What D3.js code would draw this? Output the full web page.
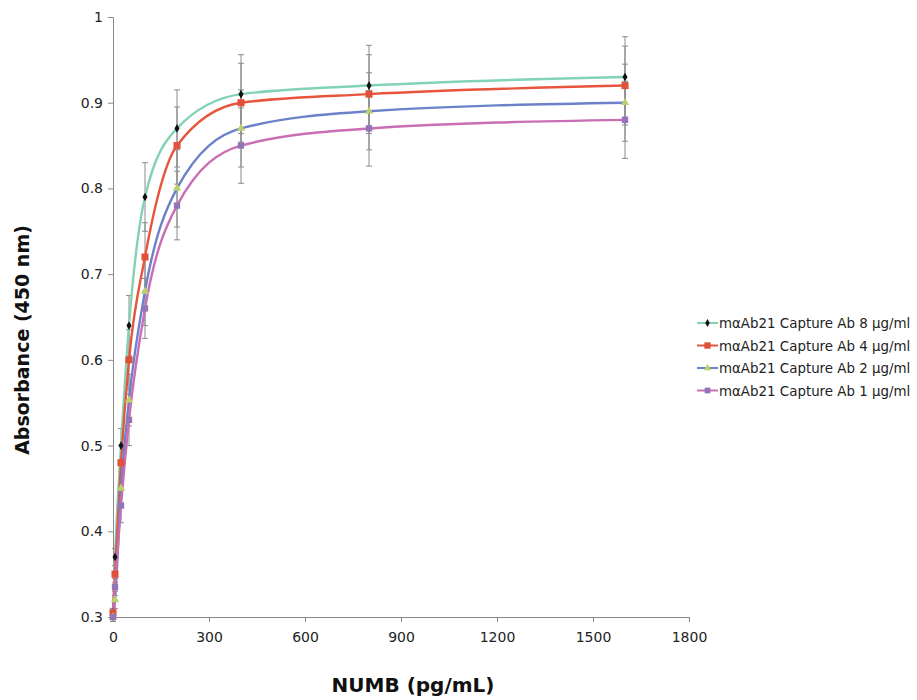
<!DOCTYPE html>
<html lang="en">
<head>
<meta charset="utf-8">
<title>NUMB standard curves</title>
<script src="https://d3js.org/d3.v7.min.js"></script>
<style>
  body{margin:0;background:#fff;font-family:"DejaVu Sans",Verdana,sans-serif;}
  .axis path,.axis line{stroke:#8a8a8a;}
  .axis text{fill:#222;font-size:14px;font-family:"DejaVu Sans",Verdana,sans-serif;}
</style>
</head>
<body>
<div id="chart"></div>
<script>
// concentrations (pg/mL)
var conc = [0, 6.25, 25, 50, 100, 200, 400, 800, 1600]
var seriesNames = [
  "m\u03b1Ab21 Capture Ab 8 \u00b5g/ml",
  "m\u03b1Ab21 Capture Ab 4 \u00b5g/ml",
  "m\u03b1Ab21 Capture Ab 2 \u00b5g/ml",
  "m\u03b1Ab21 Capture Ab 1 \u00b5g/ml"
]
var abs8 = [0.305, 0.37, 0.50, 0.64, 0.79, 0.87, 0.91, 0.92, 0.93]
var abs4 = [0.305, 0.35, 0.48, 0.60, 0.72, 0.85, 0.90, 0.91, 0.92]
var abs2 = [0.30, 0.32, 0.45, 0.553, 0.68, 0.80, 0.87, 0.89, 0.90]
var abs1 = [0.30, 0.335, 0.43, 0.53, 0.66, 0.78, 0.85, 0.87, 0.88]
// standard deviations
var sd8 = [0.005, 0.01, 0.02, 0.035, 0.04, 0.045, 0.046, 0.047, 0.047]
var sd4 = [0.005, 0.01, 0.02, 0.035, 0.04, 0.045, 0.046, 0.046, 0.046]
var sd2 = [0.005, 0.01, 0.02, 0.03, 0.04, 0.045, 0.045, 0.045, 0.045]
var sd1 = [0.005, 0.01, 0.02, 0.03, 0.035, 0.04, 0.044, 0.044, 0.045]
var xTicks = [0, 300, 600, 900, 1200, 1500, 1800]
var yTicks = [0.3, 0.4, 0.5, 0.6, 0.7, 0.8, 0.9, 1]

var w = 917, h = 700
var mLeft = 113, mRight = 689, mTop = 17, mBottom = 617

var xScale = d3.scaleLinear().domain([0, 1800]).range([mLeft, mRight])
var yScale = d3.scaleLinear().domain([0.3, 1]).range([mBottom, mTop])

var series = [
  {name: seriesNames[0], vals: abs8, sd: sd8, line: "#82d2b4", mark: "#111", shape: "diamond", size: 22},
  {name: seriesNames[1], vals: abs4, sd: sd4, line: "#e8553d", mark: "#df5239", shape: "square", size: 50},
  {name: seriesNames[2], vals: abs2, sd: sd2, line: "#6b81c9", mark: "#bad06c", shape: "triangle", size: 30},
  {name: seriesNames[3], vals: abs1, sd: sd1, line: "#c96db5", mark: "#9274b9", shape: "square", size: 40}
]
var shapes = {diamond: d3.symbolDiamond, square: d3.symbolSquare, triangle: d3.symbolTriangle}

var svg = d3.select("#chart").append("svg")
  .attr("width", w).attr("height", h)

// axes
svg.append("g").attr("class", "axis")
  .attr("transform", "translate(0," + mBottom + ")")
  .call(d3.axisBottom(xScale).tickValues(xTicks).tickSize(5).tickPadding(10).tickFormat(d3.format("d")))
svg.append("g").attr("class", "axis")
  .attr("transform", "translate(" + mLeft + ",0)")
  .call(d3.axisLeft(yScale).tickValues(yTicks).tickSize(5).tickPadding(5).tickFormat(function(d){ return d == 1 ? "1" : d3.format(".1f")(d) }))

// error bars
series.forEach(function(s){
  var g = svg.append("g")
  s.vals.forEach(function(v, i){
    var x = xScale(conc[i])
    var y0 = yScale(v - s.sd[i]), y1 = yScale(v + s.sd[i])
    g.append("line").attr("x1", x).attr("x2", x).attr("y1", y0).attr("y2", y1)
      .attr("stroke", "#8c8c8c").attr("stroke-width", 1)
    ;[y0, y1].forEach(function(yy){
      g.append("line").attr("x1", x - 3).attr("x2", x + 3).attr("y1", yy).attr("y2", yy)
        .attr("stroke", "#8c8c8c").attr("stroke-width", 1)
    })
  })
})

// smoothed lines
var line = d3.line()
  .x(function(d){ return xScale(d[0]) })
  .y(function(d){ return yScale(d[1]) })
  .curve(d3.curveMonotoneX)

series.forEach(function(s){
  var pts = conc.map(function(c, i){ return [c, s.vals[i]] })
  svg.append("path").datum(pts)
    .attr("d", line)
    .attr("fill", "none")
    .attr("stroke", s.line)
    .attr("stroke-width", 2.4)
})

// markers
series.forEach(function(s){
  svg.append("g").selectAll("path")
    .data(conc.map(function(c, i){ return [c, s.vals[i]] }))
    .enter().append("path")
    .attr("transform", function(d){ return "translate(" + xScale(d[0]) + "," + yScale(d[1]) + ")" })
    .attr("d", d3.symbol().type(shapes[s.shape]).size(s.size))
    .attr("fill", s.mark)
})

// legend
var legend = svg.append("g").attr("transform", "translate(697,323)")
series.forEach(function(s, i){
  var row = legend.append("g").attr("transform", "translate(0," + (i * 22.5) + ")")
  row.append("line").attr("x1", 0).attr("x2", 21).attr("y1", 0).attr("y2", 0)
    .attr("stroke", s.line).attr("stroke-width", 2)
  row.append("path").attr("transform", "translate(10.5,0)")
    .attr("d", d3.symbol().type(shapes[s.shape]).size(s.size * 0.8))
    .attr("fill", s.mark)
  row.append("text").attr("x", 22).attr("y", 5)
    .attr("font-size", "13.4px").attr("fill", "#222")
    .text(s.name)
})

// axis titles
svg.append("text")
  .attr("transform", "translate(29,340) rotate(-90)")
  .attr("text-anchor", "middle")
  .attr("font-size", "19px").attr("font-weight", "bold").attr("fill", "#111")
  .text("Absorbance (450 nm)")
svg.append("text")
  .attr("x", 413).attr("y", 692)
  .attr("text-anchor", "middle")
  .attr("font-size", "20px").attr("font-weight", "bold").attr("fill", "#111")
  .text("NUMB (pg/mL)")
</script>
</body>
</html>
